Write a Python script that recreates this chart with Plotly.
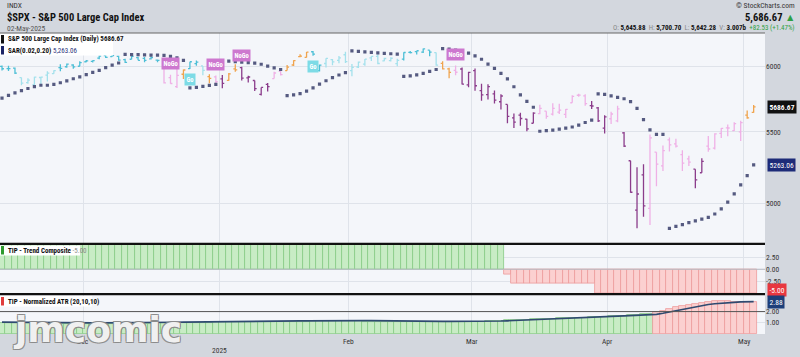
import math
import plotly.graph_objects as go

# ---------------- data ----------------
dates = (
    ["2024-11-%02d" % d for d in [12, 13, 14, 15, 18, 19, 20, 21, 22, 25, 26, 27, 29]]
    + ["2024-12-%02d" % d for d in [2, 3, 4, 5, 6, 9, 10, 11, 12, 13, 16, 17, 18, 19, 20, 23, 24, 26, 27, 30, 31]]
    + ["2025-01-%02d" % d for d in [2, 3, 6, 7, 8, 10, 13, 14, 15, 16, 17, 21, 22, 23, 24, 27, 28, 29, 30, 31]]
    + ["2025-02-%02d" % d for d in [3, 4, 5, 6, 7, 10, 11, 12, 13, 14, 18, 19, 20, 21, 24, 25, 26, 27, 28]]
    + ["2025-03-%02d" % d for d in [3, 4, 5, 6, 7, 10, 11, 12, 13, 14, 17, 18, 19, 20, 21, 24, 25, 26, 27, 28, 31]]
    + ["2025-04-%02d" % d for d in [1, 2, 3, 4, 7, 8, 9, 10, 11, 14, 15, 16, 17, 21, 22, 23, 24, 25, 28, 29, 30]]
    + ["2025-05-%02d" % d for d in [1, 2]]
)

opens = [6003.6, 5985.7, 5989.6, 5912.8, 5874.2, 5857.9, 5914.5, 5932.5, 5944.4, 5992.3, 6000.0, 6014.1, 6003.98,
         6040.1, 6042.97, 6069.4, 6089.0, 6081.4, 6083.0, 6057.6, 6060.2, 6074.3, 6068.2, 6063.8, 6052.6, 6047.7, 5912.7, 5842.0, 5940.3, 5984.7, 6024.97, 6006.2, 5920.7, 5919.7,
         5903.3, 5891.1, 5982.8, 5993.3, 5910.7, 5890.7, 5782.0, 5859.7, 5906.2, 5962.6, 5969.2, 6014.1, 6081.4, 6076.3, 6121.4, 5969.0, 6026.0, 6057.7, 6050.8, 6096.8,
         5969.7, 5998.1, 6020.5, 6072.2, 6083.1, 6046.4, 6049.3, 6025.1, 6060.6, 6115.5, 6121.6, 6117.8, 6134.5, 6114.8, 6026.7, 5982.7, 5970.9, 5981.9, 5856.7,
         5968.3, 5811.98, 5781.4, 5785.9, 5726.0, 5705.4, 5603.7, 5624.8, 5594.5, 5563.9, 5635.6, 5654.5, 5632.4, 5646.9, 5630.7, 5718.1, 5775.9, 5771.7, 5695.6, 5679.0, 5527.9,
         5597.5, 5580.8, 5492.7, 5292.1, 4953.8, 5193.6, 4965.3, 5353.2, 5255.6, 5441.96, 5411.99, 5335.8, 5305.5, 5232.9, 5207.7, 5395.9, 5381.4, 5489.7, 5529.2, 5508.9, 5499.4,
         5625.1, 5645.88]
highs = [6009.9, 6008.2, 5993.9, 5915.3, 5908.1, 5920.0, 5920.8, 5963.0, 5972.9, 6020.8, 6025.4, 6020.2, 6044.2,
         6053.6, 6052.0, 6089.8, 6092.3, 6099.97, 6088.5, 6065.4, 6092.6, 6079.7, 6078.6, 6085.2, 6057.7, 6070.7, 5935.5, 5982.1, 5978.3, 6040.1, 6049.8, 6006.2, 5940.8, 5929.7,
         5935.1, 5949.3, 6021.0, 6000.7, 5927.9, 5890.7, 5836.6, 5871.9, 5960.6, 5964.7, 6014.96, 6051.5, 6100.8, 6118.7, 6128.2, 6017.2, 6069.1, 6062.8, 6086.6, 6120.9,
         6022.1, 6042.5, 6062.9, 6084.0, 6101.3, 6073.4, 6076.3, 6063.6, 6116.9, 6127.5, 6129.6, 6147.4, 6134.5, 6114.8, 6043.7, 5992.7, 6009.8, 5993.7, 5959.4,
         5986.1, 5865.1, 5860.6, 5812.1, 5783.0, 5705.4, 5636.3, 5642.2, 5597.8, 5645.3, 5703.5, 5654.5, 5715.3, 5711.2, 5670.8, 5775.1, 5786.95, 5783.6, 5732.3, 5685.9, 5623.1,
         5650.6, 5695.3, 5499.5, 5292.1, 5246.6, 5267.5, 5481.3, 5353.2, 5400.0, 5459.5, 5450.4, 5367.2, 5328.3, 5232.9, 5309.6, 5469.7, 5489.4, 5528.1, 5553.7, 5571.95, 5581.8,
         5658.9, 5700.70]
lows = [5969.2, 5965.9, 5942.3, 5853.0, 5865.9, 5853.6, 5860.6, 5883.4, 5944.4, 5963.9, 5992.3, 5984.9, 6003.98,
        6035.3, 6033.4, 6061.1, 6070.7, 6079.98, 6048.6, 6029.9, 6060.2, 6051.3, 6035.8, 6059.1, 6035.2, 5867.8, 5866.1, 5832.3, 5902.6, 5981.4, 6007.4, 5932.95, 5869.2, 5868.9,
        5829.5, 5888.7, 5960.0, 5890.7, 5874.8, 5809.5, 5773.3, 5805.3, 5906.2, 5930.6, 5969.2, 6006.9, 6076.1, 6074.7, 6088.7, 5962.9, 5994.4, 6012.96, 6027.5, 6030.9,
        5923.9, 5990.9, 6007.1, 6046.8, 6019.96, 6044.8, 6042.3, 6003.0, 6051.0, 6107.6, 6099.5, 6111.2, 6084.6, 6008.6, 5977.4, 5908.5, 5932.7, 5858.8, 5837.7,
        5810.9, 5732.6, 5742.4, 5711.6, 5666.3, 5564.0, 5528.4, 5546.1, 5504.65, 5563.9, 5631.1, 5597.8, 5622.2, 5632.6, 5603.1, 5718.1, 5763.4, 5695.9, 5670.9, 5572.4, 5488.7,
        5558.5, 5571.5, 5390.8, 5069.9, 4835.0, 4910.4, 4856.4, 5115.3, 5220.8, 5358.0, 5386.4, 5220.8, 5255.6, 5101.6, 5207.7, 5356.6, 5371.96, 5455.9, 5468.6, 5505.7, 5433.2,
        5597.4, 5642.28]
closes = [5983.99, 5985.38, 5949.17, 5870.62, 5893.62, 5916.98, 5917.11, 5948.71, 5969.34, 5987.37, 6021.63, 5998.74, 6032.38,
          6047.15, 6049.88, 6086.49, 6075.11, 6090.27, 6052.85, 6034.91, 6084.19, 6051.25, 6051.09, 6074.08, 6050.61, 5872.16, 5867.08, 5930.85, 5974.07, 6040.04, 6037.59, 5970.84, 5906.94, 5881.63,
          5868.55, 5942.47, 5975.38, 5909.03, 5918.25, 5827.04, 5836.22, 5842.91, 5949.91, 5937.34, 5996.66, 6049.24, 6086.37, 6118.71, 6101.24, 6012.28, 6067.70, 6039.31, 6071.17, 6040.53,
          5994.57, 6037.88, 6061.48, 6083.57, 6025.99, 6066.44, 6068.50, 6051.97, 6115.07, 6114.63, 6129.58, 6144.15, 6117.52, 6013.13, 5983.25, 5955.25, 5956.06, 5861.57, 5954.50,
          5849.72, 5778.15, 5842.63, 5738.52, 5770.20, 5614.56, 5572.07, 5599.30, 5521.52, 5638.94, 5675.12, 5614.66, 5675.29, 5662.89, 5667.56, 5767.57, 5776.65, 5712.20, 5693.31, 5580.94, 5611.85,
          5633.07, 5670.97, 5396.52, 5074.08, 5062.25, 4982.77, 5456.90, 5268.05, 5363.36, 5405.97, 5396.63, 5275.70, 5282.70, 5158.20, 5287.76, 5375.86, 5484.77, 5525.21, 5528.75, 5560.83, 5569.06,
          5604.14, 5686.67]

sar = [5754.0, 5775.0, 5794.4, 5812.2, 5828.3, 5843.2, 5853.6, 5853.6, 5860.6, 5873.1, 5887.9, 5904.4, 5918.9,
       5936.4, 5955.2, 5971.0, 5992.4, 6012.4, 6029.9, 6100.0, 6098.6, 6097.2, 6095.9, 6094.6, 6093.3, 6092.0, 6083.0, 6070.7, 6051.6, 5832.3, 5836.5, 5845.0, 5853.2, 5861.1,
       6049.8, 6045.4, 6041.1, 6036.9, 6032.8, 6028.7, 6019.9, 6005.1, 5991.2, 5978.1, 5773.3, 5778.1, 5789.0, 5807.7, 5832.6, 5862.2, 5888.8, 5912.7, 5934.3, 5953.7,
       6128.2, 6124.1, 6120.1, 6116.2, 6112.4, 6108.6, 6104.9, 6101.3, 5923.9, 5927.8, 5935.8, 5947.4, 5963.4, 5978.1, 6147.4, 6144.0, 6134.6, 6125.6, 6109.6,
       6087.9, 6060.2, 6020.9, 5986.3, 5947.8, 5902.8, 5841.8, 5779.1, 5729.0, 5684.1, 5504.7, 5508.6, 5512.5, 5520.6, 5528.4, 5535.9, 5550.3, 5569.2, 5586.6, 5787.0, 5782.7,
       5770.9, 5759.6, 5748.8, 5727.3, 5674.7, 5590.7, 5515.1, 5481.3, 5481.3, 4835.0, 4847.5, 4859.7, 4871.7, 4883.5, 4895.0, 4906.3, 4928.8, 4962.4, 5007.7, 5062.3, 5123.5,
       5187.7, 5263.06]

# GoNoGo trend state of each bar, as (state, number of bars) runs
gonogo_runs = [("go", 3), ("weak_go", 6), ("go", 16), ("weak_nogo", 3), ("neutral", 1), ("go", 2), ("weak_go", 1),
               ("neutral", 1), ("weak_nogo", 1), ("nogo", 1), ("neutral", 2), ("nogo", 5), ("weak_nogo", 2), ("neutral", 4),
               ("go", 2), ("weak_go", 12), ("go", 5), ("weak_go", 1), ("neutral", 2), ("weak_nogo", 1), ("nogo", 12),
               ("weak_nogo", 8), ("nogo", 3), ("weak_nogo", 2), ("nogo", 4), ("weak_nogo", 7), ("nogo", 2), ("weak_nogo", 6),
               ("neutral", 2)]
signal_index = [26, 29, 33, 37, 48, 70]
signal_text = ["NoGo", "Go", "NoGo", "NoGo", "Go", "NoGo"]

trend_composite = [5] * 78 + [-1] + [-3] * 13 + [-5] * 25

atr_bars = [0.95, 0.94, 0.96, 0.97, 0.95, 0.94, 0.93, 0.92, 0.91, 0.92, 0.91, 0.90, 0.90,
            0.89, 0.88, 0.88, 0.87, 0.87, 0.88, 0.89, 0.88, 0.88, 0.89, 0.90, 0.95, 0.97, 1.00, 1.00, 1.01, 1.00, 1.01, 1.02, 1.02, 1.03,
            1.04, 1.05, 1.05, 1.06, 1.06, 1.08, 1.09, 1.08, 1.10, 1.09, 1.10, 1.10, 1.11, 1.11, 1.12, 1.14, 1.13, 1.13, 1.13, 1.13,
            1.13, 1.12, 1.11, 1.10, 1.10, 1.09, 1.08, 1.07, 1.07, 1.06, 1.05, 1.05, 1.05, 1.06, 1.06, 1.06, 1.06, 1.08, 1.08,
            1.09, 1.11, 1.13, 1.15, 1.17, 1.21, 1.24, 1.26, 1.29, 1.31, 1.33, 1.35, 1.37, 1.39, 1.41, 1.43, 1.44, 1.46, 1.48, 1.52, 1.55,
            1.57, 1.59, 1.63, 1.68, 1.72, 1.75, 1.78, 1.98, 2.05, 2.22, 2.38, 2.50, 2.60, 2.72, 2.80, 2.87, 2.91, 2.92, 2.91, 2.89, 2.87,
            2.85, 2.83]
atr_line = [1.06, 1.06, 1.05, 1.05, 1.04, 1.04, 1.03, 1.03, 1.02, 1.02, 1.01, 1.01, 1.00,
            1.00, 1.00, 0.99, 0.99, 0.99, 0.99, 1.00, 1.00, 1.00, 1.01, 1.01, 1.02, 1.03, 1.04, 1.05, 1.06, 1.07, 1.07, 1.08, 1.08, 1.09,
            1.10, 1.10, 1.11, 1.12, 1.12, 1.13, 1.14, 1.14, 1.15, 1.15, 1.16, 1.16, 1.17, 1.17, 1.18, 1.19, 1.19, 1.20, 1.20, 1.20,
            1.20, 1.20, 1.20, 1.19, 1.19, 1.18, 1.18, 1.17, 1.16, 1.16, 1.15, 1.14, 1.14, 1.13, 1.13, 1.12, 1.12, 1.11, 1.11,
            1.11, 1.12, 1.13, 1.14, 1.16, 1.18, 1.20, 1.22, 1.25, 1.28, 1.31, 1.33, 1.35, 1.38, 1.40, 1.42, 1.45, 1.47, 1.49, 1.52, 1.55,
            1.57, 1.59, 1.62, 1.64, 1.67, 1.70, 1.72, 1.76, 1.85, 1.96, 2.08, 2.20, 2.33, 2.44, 2.54, 2.63, 2.70, 2.76, 2.80, 2.83, 2.86,
            2.87, 2.88]
atr_expanding = [False] * 101 + [True] * 16

price_ticks = [5000, 5500, 6000]
trend_ticks = [2.5, 0.0, -2.5]
atr_ticks = [1.0, 2.0]
month_names = {"2024-12": "Dec", "2025-01": "2025", "2025-02": "Feb", "2025-03": "Mar", "2025-04": "Apr", "2025-05": "May"}

last_close = 5686.67
last_sar = 5263.06
last_trend = -5.00
last_atr = 2.88

# ---------------- styling ----------------
FONT = "Liberation Sans Narrow, Roboto Condensed, Roboto, sans-serif"
STATE_COLORS = {"go": "#4dbfd6", "weak_go": "#a4e1ec", "neutral": "#f0a44e",
                "weak_nogo": "#efb0e6", "nogo": "#8b3c8b"}
PAPER = "#d3d7de"
PLOT = "#f4f6fa"
GRID = "#dfe3ea"

n = len(dates)
xs = list(range(n))
gonogo = [s for s, k in gonogo_runs for _ in range(k)]

month_pos, month_txt = [], []
for i in range(1, n):
    if dates[i][:7] != dates[i - 1][:7] and dates[i][:7] in month_names:
        month_pos.append(i - 0.5)
        month_txt.append(month_names[dates[i][:7]])

fig = go.Figure()

for state, col in STATE_COLORS.items():
    idx = [i for i in xs if gonogo[i] == state]
    fig.add_trace(go.Ohlc(
        x=idx, open=[opens[i] for i in idx], high=[highs[i] for i in idx],
        low=[lows[i] for i in idx], close=[closes[i] for i in idx],
        increasing=dict(line=dict(color=col, width=1.3)),
        decreasing=dict(line=dict(color=col, width=1.3)),
        tickwidth=0.3, xaxis="x", yaxis="y", showlegend=False, hoverinfo="skip"))

fig.add_trace(go.Scatter(x=xs, y=sar, mode="markers", xaxis="x", yaxis="y",
                         marker=dict(symbol="square", size=3.2, color="#555a80"),
                         showlegend=False, hoverinfo="skip"))

fig.add_trace(go.Bar(
    x=xs, y=trend_composite, width=1, xaxis="x2", yaxis="y2",
    marker=dict(color=["#c8ecc5" if v > 0 else "#fbd0d0" for v in trend_composite],
                line=dict(color=["#86c983" if v > 0 else "#ec9a9a" for v in trend_composite], width=0.8)),
    showlegend=False, hoverinfo="skip"))

fig.add_trace(go.Bar(
    x=xs, y=atr_bars, width=1, xaxis="x3", yaxis="y3",
    marker=dict(color=["#fbd0d0" if e else "#c8ecc5" for e in atr_expanding],
                line=dict(color=["#ec9a9a" if e else "#86c983" for e in atr_expanding], width=0.8)),
    showlegend=False, hoverinfo="skip"))
fig.add_trace(go.Scatter(x=xs, y=atr_line, mode="lines", xaxis="x3", yaxis="y3",
                         line=dict(color="#2f4a70", width=1.7), showlegend=False, hoverinfo="skip"))

xr = [-0.31, 117.75]
xcommon = dict(range=xr, showticklabels=False, tickvals=month_pos, showgrid=True, gridcolor=GRID,
               gridwidth=1, zeroline=False, ticks="", showline=False, fixedrange=True)
ycommon = dict(side="right", showline=False, zeroline=False, ticks="", gridcolor=GRID,
               tickfont=dict(family=FONT, size=7.5, color="#333"))

def pv(ypx):
    return (334 - ypx) / 301.0

fig.update_layout(
    width=800, height=357, margin=dict(l=0, r=35, t=33, b=23),
    paper_bgcolor=PAPER, plot_bgcolor=PLOT, bargap=0, showlegend=False,
    font=dict(family=FONT),
    xaxis=dict(anchor="y", rangeslider=dict(visible=False), **xcommon),
    xaxis2=dict(anchor="y2", matches="x", **xcommon),
    xaxis3=dict(anchor="y3", matches="x", **xcommon),
    yaxis=dict(domain=[pv(243.3), 1], type="log", range=[math.log10(4739.5), math.log10(6276.6)],
               tickvals=price_ticks, ticktext=[str(v) for v in price_ticks], **ycommon),
    yaxis2=dict(domain=[pv(293.5), pv(244.5)], range=[-5.0, 5.1],
                tickvals=trend_ticks, ticktext=["%.2f" % v for v in trend_ticks], **ycommon),
    yaxis3=dict(domain=[0, pv(295.0)], range=[0, 3.48],
                tickvals=atr_ticks, ticktext=["%.2f" % v for v in atr_ticks], **ycommon),
)

shapes = [
    dict(type="line", xref="paper", yref="paper", x0=0, x1=1, y0=1, y1=1, line=dict(color="#666", width=1)),
    dict(type="line", xref="paper", yref="paper", x0=0, x1=1, y0=pv(243.8), y1=pv(243.8), line=dict(color="#111", width=2.2)),
    dict(type="line", xref="paper", yref="paper", x0=0, x1=1, y0=pv(294.2), y1=pv(294.2), line=dict(color="#111", width=2.2)),
    dict(type="line", xref="x3", yref="y3", x0=xr[0], x1=xr[1], y0=2, y1=2, line=dict(color="#555", width=1)),
    dict(type="line", xref="x2", yref="y2", x0=xr[0], x1=xr[1], y0=0, y1=0, line=dict(color="#b8bcc4", width=1)),
    dict(type="rect", xref="paper", yref="paper", x0=0, x1=113 / 765, y0=pv(55.5), y1=pv(34), fillcolor="white", line=dict(width=0)),
    dict(type="rect", xref="paper", yref="paper", x0=0, x1=80 / 765, y0=pv(255.5), y1=pv(245.5), fillcolor="white", line=dict(width=0)),
    dict(type="rect", xref="paper", yref="paper", x0=0, x1=92 / 765, y0=pv(306.5), y1=pv(296), fillcolor="white", line=dict(width=0)),
    dict(type="rect", xref="paper", yref="paper", x0=1 / 765, x1=4 / 765, y0=pv(43.5), y1=pv(35), fillcolor="#111", line=dict(width=0)),
    dict(type="rect", xref="paper", yref="paper", x0=1 / 765, x1=4 / 765, y0=pv(54.5), y1=pv(46), fillcolor="#1c2466", line=dict(width=0)),
    dict(type="rect", xref="paper", yref="paper", x0=1 / 765, x1=4 / 765, y0=pv(254.5), y1=pv(246), fillcolor="#2e9a2e", line=dict(width=0)),
    dict(type="rect", xref="paper", yref="paper", x0=1 / 765, x1=4 / 765, y0=pv(305.5), y1=pv(297), fillcolor="#e03c3c", line=dict(width=0)),
]
fig.update_layout(shapes=shapes)

ann = []
def txt(x, y, text, size=7.5, color="#222", xanchor="left", xref="paper", yref="paper", **kw):
    ann.append(dict(x=x, y=y, xref=xref, yref=yref, text=text, showarrow=False, xanchor=xanchor,
                    yanchor=kw.pop("yanchor", "middle"), font=dict(family=FONT, size=size, color=color), **kw))

# header
txt(5 / 765, pv(5.5), "INDX", size=7.5, color="#333")
txt(5 / 765, pv(17), "<b>$SPX - S&P 500 Large Cap Index</b>", size=10.5, color="#111")
txt(5 / 765, pv(28), "02-May-2025", size=7.5, color="#555")
txt(797 / 765, pv(5.5), "© StockCharts.com", size=7.5, color="#333", xanchor="right")
txt(797 / 765, pv(17), "<b>5,686.67</b> <span style='color:#2ea043'>▲</span>", size=10.5, color="#111", xanchor="right")
txt(797 / 765, pv(28),
    "<span style='color:#888'>O:</span> <b>5,645.88</b>  <span style='color:#888'>H:</span> <b>5,700.70</b>  "
    "<span style='color:#888'>L:</span> <b>5,642.28</b>  <span style='color:#888'>V:</span> <b>3.007b</b>  "
    "<span style='color:#2ea043'>+82.53 (+1.47%)</span>", size=7, color="#111", xanchor="right")

# panel legends
txt(6 / 765, pv(39.5), "<b>S&P 500 Large Cap Index (Daily) 5686.67</b>", size=7, color="#111")
txt(6 / 765, pv(50.5), "<b>SAR(0.02,0.20)</b> <span style='color:#27307a'>5,263.06</span>", size=7, color="#111")
txt(6 / 765, pv(250.5), "<b>TIP - Trend Composite</b> <span style='color:#888'>%.2f</span>" % last_trend, size=7, color="#111")
txt(6 / 765, pv(301.5), "<b>TIP - Normalized ATR (20,10,10)</b>", size=7, color="#111")

# right-side value tags
def tag(y, yref, text, bg):
    ann.append(dict(x=1, y=y, xref="paper", yref=yref, text=text, showarrow=False,
                    xanchor="left", xshift=2, font=dict(family=FONT, size=7.5, color="white"),
                    bgcolor=bg, borderpad=1.5))

tag(math.log10(last_close), "y", "<b>%.2f</b>" % last_close, "#111")
tag(math.log10(last_sar), "y", "%.2f" % last_sar, "#1d2b78")
tag(-4.25, "y2", "%.2f" % last_trend, "#e8373f")
tag(last_atr, "y3", "%.2f" % last_atr, "#1d3f7a")

# GoNoGo signal tags
for i, t in zip(signal_index, signal_text):
    if t == "Go":
        ann.append(dict(x=i, y=math.log10(lows[i]), xref="x", yref="y", text="<b>Go</b>", showarrow=False,
                        yanchor="top", yshift=-4, font=dict(family=FONT, size=6.5, color="white"),
                        bgcolor="#7ddbe6", borderpad=1.5))
    else:
        ann.append(dict(x=i, y=math.log10(highs[i]), xref="x", yref="y", text="<b>NoGo</b>", showarrow=False,
                        yanchor="bottom", yshift=5, font=dict(family=FONT, size=6.5, color="white"),
                        bgcolor="#cd78cf", borderpad=1.5))

# month labels
for p, t in zip(month_pos, month_txt):
    ylab = pv(350.5) if t.isdigit() else pv(341)
    ann.append(dict(x=p, y=ylab, xref="x3", yref="paper", text=t, showarrow=False, xanchor="center",
                    yanchor="middle", font=dict(family=FONT, size=7.5, color="#333")))

# watermark
ann.append(dict(x=97 / 765, y=pv(329), xref="paper", yref="paper", text="<b>jmcomic</b>", showarrow=False,
                xanchor="center", yanchor="middle",
                font=dict(family="DejaVu Sans", size=36, color="rgba(255,255,255,0.9)",
                          shadow="-1px -1px 0 #8a8a8a, 1px -1px 0 #8a8a8a, -1px 1px 0 #8a8a8a, 1px 1px 0 #8a8a8a")))

fig.update_layout(annotations=ann)
fig.write_html("out.html", config={"displayModeBar": False},
               post_script="document.body.style.margin='0px';")
